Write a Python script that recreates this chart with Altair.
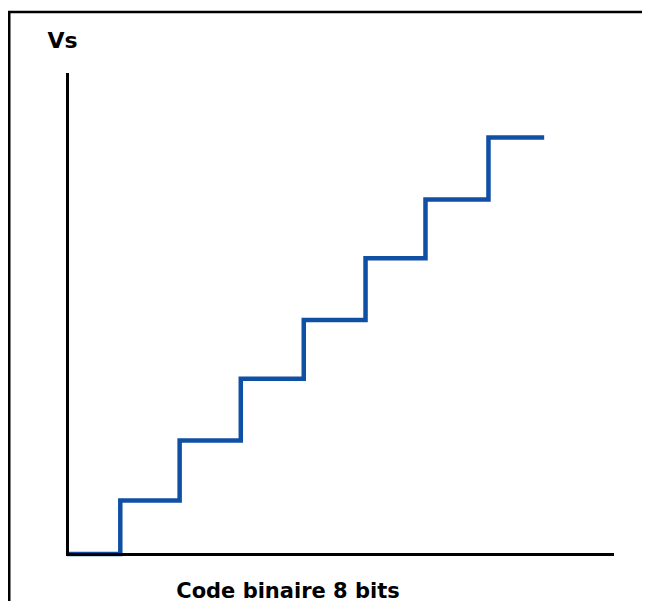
import altair as alt
import pandas as pd

# Staircase: code-step edges (x) and output voltage levels (y)
code_edges = [0, 0.88, 1.86, 2.87, 3.91, 4.93, 5.92, 6.96, 7.88]
vs_levels = [0, 0.89, 1.89, 2.92, 3.90, 4.93, 5.91, 6.94, 6.94]

x_title = "Code binaire 8 bits"
y_title = "Vs"

df = pd.DataFrame({"code": code_edges, "vs": vs_levels})
frame_df = pd.DataFrame({"k": [0]})

W, H = 545, 480
FONT = "DejaVu Sans"

line = alt.Chart(df).mark_line(
    color="#1050A4", strokeWidth=4.5, interpolate="step-after",
    strokeJoin="miter", strokeCap="butt"
).encode(
    x=alt.X("code:Q", scale=alt.Scale(domain=[0, 9], nice=False, zero=False),
            axis=alt.Axis(title=x_title, ticks=False, labels=False, grid=False,
                          domainColor="black", domainWidth=3, domainCap="square",
                          titleFont=FONT, titleFontSize=21, titleFontWeight="bold",
                          titleColor="black", titleX=220.5, titleY=43,
                          titleAlign="center", titleBaseline="alphabetic", zindex=1)),
    y=alt.Y("vs:Q", scale=alt.Scale(domain=[0, 8], nice=False),
            axis=alt.Axis(title=y_title, ticks=False, labels=False, grid=False,
                          domainColor="black", domainWidth=3, domainCap="square",
                          titleFont=FONT, titleFontSize=22, titleFontWeight="bold",
                          titleColor="black", titleAngle=0, titleX=-20, titleY=-27,
                          titleAlign="left", titleBaseline="alphabetic", zindex=1)),
)

left_border = alt.Chart(frame_df).mark_rule(color="black", strokeWidth=2.5).encode(
    x=alt.value(-57.75), y=alt.value(-63), y2=alt.value(540)
)
top_border = alt.Chart(frame_df).mark_rule(color="black", strokeWidth=2.5).encode(
    y=alt.value(-62), x=alt.value(-59), x2=alt.value(580)
)

chart = alt.layer(line, left_border, top_border).properties(
    width=W, height=H,
    padding={"left": 59, "top": 66, "right": 30, "bottom": 47},
    autosize=alt.AutoSizeParams(type="none"),
    background="white",
).configure_view(stroke=None)

chart.save("out.html", embed_options={"renderer": "svg", "actions": False})
